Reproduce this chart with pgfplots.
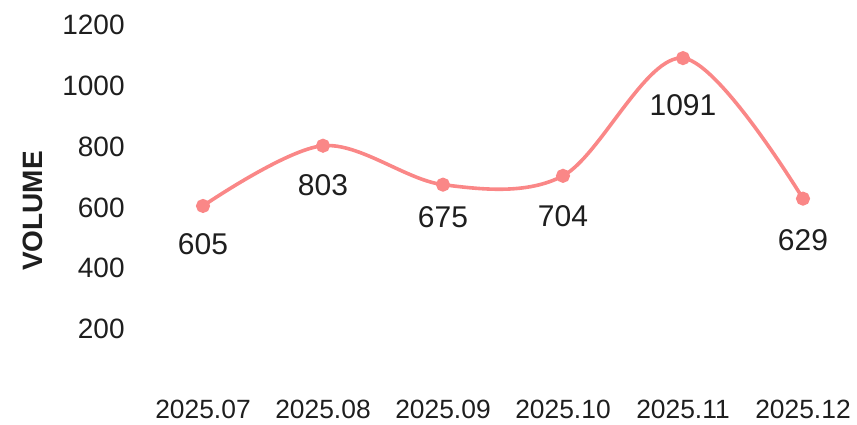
\documentclass[border=0pt]{standalone}
\usepackage{pgfplots}
\pgfplotsset{compat=1.18}
\usepackage{fontspec}
\setmainfont{Liberation Sans}
\definecolor{linec}{RGB}{250,135,135}
\definecolor{txt}{RGB}{30,30,30}
\pgfplotstableread{
x y dy lab
0 605 -19 605
1 803 -19.5 803
2 675 -16.5 675
3 704 -20 704
4 1091 -23.5 1091
5 629 -21 629
}\datatab
\begin{document}
\begin{tikzpicture}
\useasboundingbox (-83.5pt,-13pt) rectangle (345pt,199pt);
\begin{axis}[
  scale only axis,
  width=336pt, height=199pt,
  xmin=-0.3, xmax=5.3,
  ymin=-26.3, ymax=1282,
  axis line style={draw=none},
  major tick length=0pt,
  xtick={0,1,2,3,4,5},
  xticklabels={2025.07,2025.08,2025.09,2025.10,2025.11,2025.12},
  ytick={200,400,600,800,1000,1200},
  /pgf/number format/1000 sep={},
  /pgf/number format/assume math mode=true,
  yticklabel style={font=\fontsize{14}{16}\selectfont, text=txt, anchor=east, inner sep=0pt, xshift=-21pt},
  xticklabel style={font=\fontsize{13.2}{15}\selectfont, text=txt, anchor=north, inner sep=0pt, yshift=-1pt},
  ylabel={\textbf{VOLUME}},
  ylabel style={font=\fontsize{14}{16}\selectfont, text=txt, at={(rel axis cs:-0.2,0.47)}, anchor=center, rotate=0},
  nodes near coords,
  visualization depends on={\thisrow{dy} \as \dy},
  nodes near coords style={font=\fontsize{15}{17}\selectfont, text=txt, anchor=center, yshift=\dy pt},
  point meta=explicit symbolic,
]
\addplot[color=linec, line width=1.8pt, smooth, tension=0.55, mark=*, mark size=2.6pt, mark options={fill=linec, draw=linec}]
  table[x=x, y=y, meta=lab] {\datatab};
\end{axis}
\end{tikzpicture}
\end{document}
